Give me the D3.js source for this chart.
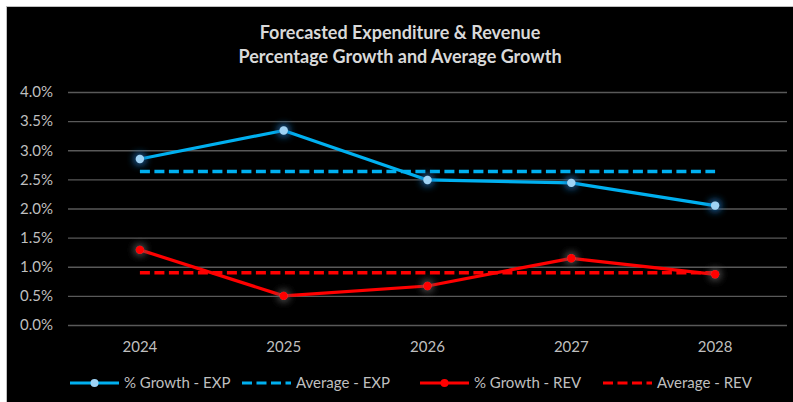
<!DOCTYPE html>
<html>
<head>
<meta charset="utf-8">
<script src="https://cdn.jsdelivr.net/npm/d3@7"></script>
<style>
  html, body { margin: 0; padding: 0; background: #fff; }
  svg { display: block; }
</style>
</head>
<body>
<svg id="chart" width="793" height="402"></svg>
<script>
const years = ['2024', '2025', '2026', '2027', '2028']
const growthExp = [2.85, 3.34, 2.49, 2.44, 2.05]
const growthRev = [1.29, 0.50, 0.67, 1.145, 0.87]
const avgExp = d3.mean(growthExp)
const avgRev = d3.mean(growthRev)
const yTicks = [0, 0.5, 1, 1.5, 2, 2.5, 3, 3.5, 4]
const titleLines = ['Forecasted Expenditure & Revenue', 'Percentage Growth and Average Growth']
const legendItems = [
  { label: '% Growth - EXP', color: '#00b0f0', dashed: false, marker: '#9fd3f5' },
  { label: 'Average - EXP', color: '#00b0f0', dashed: true },
  { label: '% Growth - REV', color: '#ff0000', dashed: false, marker: '#ff0000' },
  { label: 'Average - REV', color: '#ff0000', dashed: true }
]

const W = 793, H = 402
const plot = { left: 68, right: 787, top: 92, bottom: 325 }
const font = 'Lato, "Open Sans", "Liberation Sans", sans-serif'

const svg = d3.select('#chart')

// glow filters for the markers
const defs = svg.append('defs')
function glow(id, color) {
  const f = defs.append('filter').attr('id', id)
    .attr('x', '-300%').attr('y', '-300%').attr('width', '700%').attr('height', '700%')
  f.append('feMorphology').attr('in', 'SourceAlpha').attr('operator', 'dilate').attr('radius', 2).attr('result', 'd')
  f.append('feGaussianBlur').attr('in', 'd').attr('stdDeviation', 3.5).attr('result', 'b')
  f.append('feFlood').attr('flood-color', color).attr('flood-opacity', 0.8)
  f.append('feComposite').attr('in2', 'b').attr('operator', 'in').attr('result', 'g')
  const m = f.append('feMerge')
  m.append('feMergeNode').attr('in', 'g')
  m.append('feMergeNode').attr('in', 'SourceGraphic')
}
glow('glowBlue', '#1b6fb5')
glow('glowGrey', '#5a5a5a')

// chart background with thin frame
svg.append('rect').attr('x', 6.5).attr('y', 6.5).attr('width', W).attr('height', H)
  .attr('fill', '#000').attr('stroke', '#bfbfbf').attr('stroke-width', 1)

const x = d3.scaleBand().domain(years).range([plot.left, plot.right])
const y = d3.scaleLinear().domain([0, 4]).range([plot.bottom, plot.top])
const cx = d => x(d) + x.bandwidth() / 2

// title
svg.append('g').selectAll('text').data(titleLines).join('text')
  .attr('x', 400).attr('y', (d, i) => 39 + i * 24)
  .attr('text-anchor', 'middle')
  .attr('font-family', font).attr('font-weight', 'bold').attr('font-size', 18)
  .attr('fill', '#d9d9d9')
  .text(d => d)

// gridlines + y labels
const yAxis = svg.append('g')
  .attr('transform', `translate(${plot.left},0)`)
  .call(d3.axisLeft(y).tickValues(yTicks).tickSize(-(plot.right - plot.left))
    .tickFormat(d => d.toFixed(1) + '%').tickPadding(15))
yAxis.select('.domain').remove()
yAxis.selectAll('.tick line').attr('stroke', '#595959').attr('stroke-width', 1.3)
yAxis.selectAll('.tick text').attr('fill', '#bfbfbf').attr('font-family', font).attr('font-size', 15)

// x labels
const xAxis = svg.append('g')
  .attr('transform', `translate(0,${plot.bottom})`)
  .call(d3.axisBottom(x).tickSize(0).tickPadding(16))
xAxis.select('.domain').remove()
xAxis.selectAll('.tick text').attr('fill', '#bfbfbf').attr('font-family', font).attr('font-size', 15)

// average lines
const x0 = cx(years[0]), x1 = cx(years[years.length - 1])
svg.append('line').attr('x1', x0).attr('x2', x1).attr('y1', y(avgExp)).attr('y2', y(avgExp))
  .attr('stroke', '#00b0f0').attr('stroke-width', 3.5).attr('stroke-dasharray', '10,4.5')
svg.append('line').attr('x1', x0).attr('x2', x1).attr('y1', y(avgRev)).attr('y2', y(avgRev))
  .attr('stroke', '#ff0000').attr('stroke-width', 3.5).attr('stroke-dasharray', '10,4.5')

// growth lines
const line = d3.line().x((d, i) => cx(years[i])).y(d => y(d))
function series(vals, color, markerFill, filterId) {
  svg.append('path').datum(vals).attr('d', line)
    .attr('fill', 'none').attr('stroke', color).attr('stroke-width', 3.2)
    .attr('stroke-linejoin', 'round')
  svg.append('g').selectAll('circle').data(vals).join('circle')
    .attr('cx', (d, i) => cx(years[i])).attr('cy', d => y(d)).attr('r', 4.2)
    .attr('fill', markerFill).attr('filter', `url(#${filterId})`)
}
series(growthExp, '#00b0f0', '#9fd3f5', 'glowBlue')
series(growthRev, '#ff0000', '#ff0000', 'glowGrey')

// legend
const legendX = [70, 242, 420, 603]
const legend = svg.append('g').attr('transform', 'translate(0,383)')
legendItems.forEach((it, i) => {
  const g = legend.append('g').attr('transform', `translate(${legendX[i]},0)`)
  g.append('line').attr('x1', 0).attr('x2', 49).attr('y1', 0).attr('y2', 0)
    .attr('stroke', it.color).attr('stroke-width', 3.2)
    .attr('stroke-dasharray', it.dashed ? '10,4.5' : null)
  if (it.marker) {
    g.append('circle').attr('cx', 24.5).attr('cy', 0).attr('r', 4).attr('fill', it.marker)
  }
  g.append('text').attr('x', 54).attr('y', 0).attr('dy', '0.35em')
    .attr('fill', '#bfbfbf').attr('font-family', font).attr('font-size', 15)
    .text(it.label)
})
</script>
</body>
</html>
